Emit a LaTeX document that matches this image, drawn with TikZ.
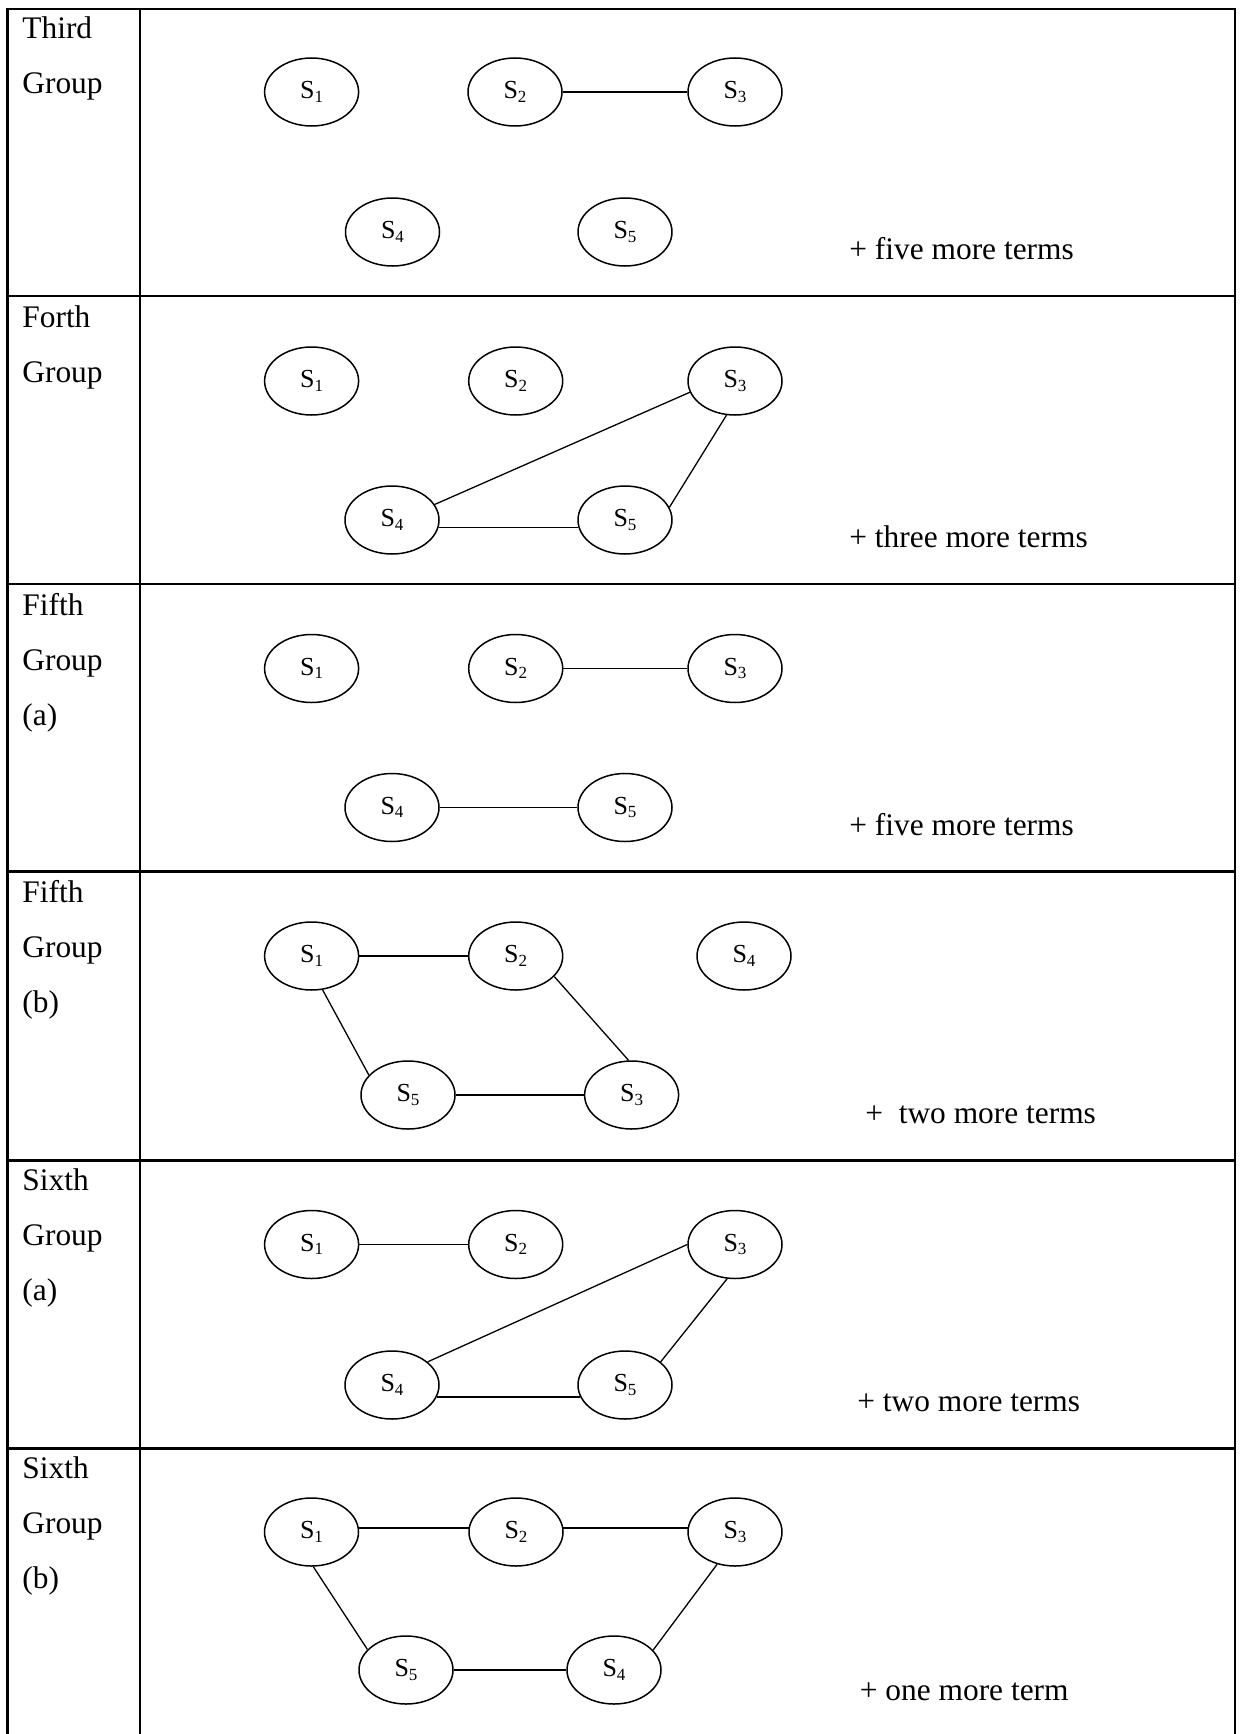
\documentclass[tikz,border=0pt]{standalone}
\usepackage{fontspec}
\setmainfont{Liberation Serif}
\usetikzlibrary{shapes.geometric}
% site label: S with a small lowered index
\newcommand{\site}[1]{{\fontsize{13}{13}\selectfont S}\raisebox{-1.8pt}{\fontsize{8.5}{8.5}\selectfont #1}}
\begin{document}
\begin{tikzpicture}[x=0.5pt,y=-0.5pt,
  site/.style={draw, ellipse, line width=0.75pt, minimum width=47pt, minimum height=34pt, inner sep=0pt},
  link/.style={line width=0.65pt},
  rule/.style={line width=1.1pt},
  lbl/.style={anchor=base west, inner sep=0pt, font=\fontsize{15.7}{15.7}\selectfont},
  more/.style={anchor=base west, inner sep=0pt, font=\fontsize{15.7}{15.7}\selectfont}]
\useasboundingbox (0,0) rectangle (1244,1734);

% table frame and rules
\draw[rule] (7.5,1734) -- (7.5,9) -- (1235,9) -- (1235,1734);
\draw[rule] (140,9) -- (140,1734);
\foreach \y in {296,584,871.5,1160.5,1448.5} \draw[rule] (7.5,\y) -- (1235,\y);

% Third group
\begin{scope}[shift={(0,9)}]
  \node[lbl] (r1l1) at (22,30) {Third};
  \node[lbl] (r1l2) at (22,85) {Group};
  \node[site] (r1s1) at (311.6,83) {\site{1}};
  \node[site] (r1s2) at (515,83) {\site{2}};
  \node[site] (r1s3) at (735,83) {\site{3}};
  \node[site] (r1s4) at (392.5,223) {\site{4}};
  \node[site] (r1s5) at (625,223) {\site{5}};
  \draw[link] (r1s2) -- (r1s3);
  \node[more] (r1t) at (849,250) {+ five more terms};
\end{scope}

% Forth group
\begin{scope}[shift={(0,296)}]
  \node[lbl] (r2l1) at (22,31) {Forth};
  \node[lbl] (r2l2) at (22,86) {Group};
  \node[site] (r2s1) at (311.6,85) {\site{1}};
  \node[site] (r2s2) at (515.7,85) {\site{2}};
  \node[site] (r2s3) at (735,85) {\site{3}};
  \node[site] (r2s4) at (392,224) {\site{4}};
  \node[site] (r2s5) at (625,224) {\site{5}};
  \draw[link] (r2s3.194) -- (r2s4.20);
  \draw[link] (r2s3.256) -- (r2s5.16);
  \draw[link] (r2s4.-9) -- (r2s5.189);
  \node[more] (r2t) at (849,251) {+ three more terms};
\end{scope}

% Fifth group (a)
\begin{scope}[shift={(0,584)}]
  \node[lbl] (r3l1) at (22,31) {Fifth};
  \node[lbl] (r3l2) at (22,86) {Group};
  \node[lbl] (r3l3) at (22,141) {(a)};
  \node[site] (r3s1) at (311.6,84.5) {\site{1}};
  \node[site] (r3s2) at (515.7,84.5) {\site{2}};
  \node[site] (r3s3) at (735,84.5) {\site{3}};
  \node[site] (r3s4) at (392,223.5) {\site{4}};
  \node[site] (r3s5) at (625,223.5) {\site{5}};
  \draw[link] (r3s2) -- (r3s3);
  \draw[link] (r3s4) -- (r3s5);
  \node[more] (r3t) at (849,251) {+ five more terms};
\end{scope}

% Fifth group (b)
\begin{scope}[shift={(0,871.5)}]
  \node[lbl] (r4l1) at (22,31) {Fifth};
  \node[lbl] (r4l2) at (22,86) {Group};
  \node[lbl] (r4l3) at (22,141) {(b)};
  \node[site] (r4s1) at (311.6,84.5) {\site{1}};
  \node[site] (r4s2) at (515.7,84.5) {\site{2}};
  \node[site] (r4s4) at (744,84.5) {\site{4}};
  \node[site] (r4s5) at (408,223.5) {\site{5}};
  \node[site] (r4s3) at (631.6,223.5) {\site{3}};
  \draw[link] (r4s1) -- (r4s2);
  \draw[link] (r4s5) -- (r4s3);
  \draw[link] (r4s1.288) -- (r4s5.153);
  \draw[link] (r4s2.332) -- (r4s3.95);
  \node[more] (r4t) at (865,251.5) {+\ \ two more terms};
\end{scope}

% Sixth group (a)
\begin{scope}[shift={(0,1160.5)}]
  \node[lbl] (r5l1) at (22,30) {Sixth};
  \node[lbl] (r5l2) at (22,85) {Group};
  \node[lbl] (r5l3) at (22,140) {(a)};
  \node[site] (r5s1) at (311.6,84) {\site{1}};
  \node[site] (r5s2) at (515.7,84) {\site{2}};
  \node[site] (r5s3) at (735,84) {\site{3}};
  \node[site] (r5s4) at (392,224.5) {\site{4}};
  \node[site] (r5s5) at (625,224.5) {\site{5}};
  \draw[link] (r5s1) -- (r5s2);
  \draw[link] (r5s3.180) -- (r5s4.33);
  \draw[link] (r5s3.257) -- (r5s5.33);
  \draw[link] (r5s4.-15) -- (r5s5.195);
  \node[more] (r5t) at (857,251) {+ two more terms};
\end{scope}

% Sixth group (b)
\begin{scope}[shift={(0,1449)}]
  \node[lbl] (r6l1) at (22,29) {Sixth};
  \node[lbl] (r6l2) at (22,84) {Group};
  \node[lbl] (r6l3) at (22,139) {(b)};
  \node[site] (r6s1) at (311.5,83) {\site{1}};
  \node[site] (r6s2) at (516,83) {\site{2}};
  \node[site] (r6s3) at (735,83) {\site{3}};
  \node[site] (r6s5) at (406,221) {\site{5}};
  \node[site] (r6s4) at (614,221) {\site{4}};
  \draw[link] (r6s1.5) -- (r6s2.175);
  \draw[link] (r6s2.5) -- (r6s3.175);
  \draw[link] (r6s5) -- (r6s4);
  \draw[link] (r6s1.273) -- (r6s5.152);
  \draw[link] (r6s3.241) -- (r6s4.27);
  \node[more] (r6t) at (859.5,251) {+ one more term};
\end{scope}
\end{tikzpicture}
\end{document}
